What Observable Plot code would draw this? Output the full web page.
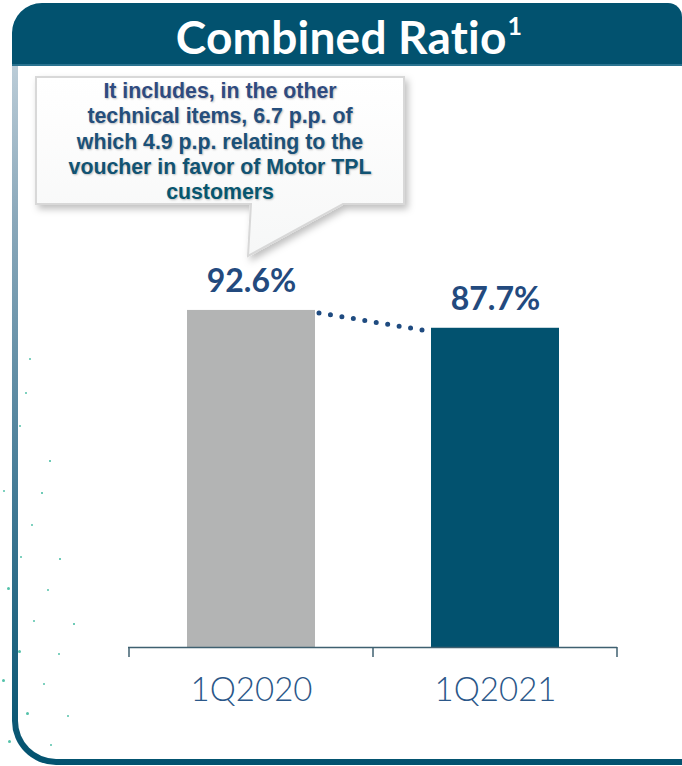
<!DOCTYPE html>
<html><head><meta charset="utf-8">
<script src="https://cdn.jsdelivr.net/npm/d3@7"></script>
<script src="https://cdn.jsdelivr.net/npm/@observablehq/plot@0.6"></script>
<style>
html,body{margin:0;padding:0;background:#fff;}
#wrap{position:relative;width:682px;height:766px;overflow:hidden;background:#fff;}
#frame{position:absolute;left:12px;top:40px;width:700px;bottom:1px;background:linear-gradient(to bottom,#c3d2dc 0%,#8aa8ba 25%,#3f7893 65%,#02526f 100%);border-bottom-left-radius:44px;}
#frameInner{position:absolute;left:6px;top:0;right:0;bottom:6px;background:#fff;border-bottom-left-radius:38px;}
#titlebar{position:absolute;left:12px;top:3px;width:670px;height:63px;background:#02526f;border-radius:30px 14px 0 0;border-bottom:2px solid #2a7390;box-sizing:border-box;display:flex;align-items:center;justify-content:center;}
#title{color:#fff;font-family:Lato,"DejaVu Sans",sans-serif;font-weight:700;font-size:46px;margin-left:4px;padding-top:6px;letter-spacing:0.2px;}
#title sup{font-size:25px;position:relative;top:-3px;margin-left:1px;}
#dots{position:absolute;left:0;top:0;width:100px;height:766px;}
.dot{position:absolute;border-radius:50%;background:#54c2aa;}
#chart{position:absolute;left:0;top:0;}
</style></head>
<body>
<div id="wrap">
  <div id="frame"><div id="frameInner"></div></div>
  <div id="titlebar"><div id="title">Combined Ratio<sup>1</sup></div></div>
  <div id="dots"></div>
  <div id="chart"></div>
</div>
<script>
const categories = ["1Q2020", "1Q2021"];
const values = [92.6, 87.7];
const valueLabels = ["92.6%", "87.7%"];
const barColors = ["#b3b4b4", "#02526f"];
const calloutLines = ["It includes, in the other", "technical items, 6.7 p.p. of", "which 4.9 p.p. relating to the", "voucher in favor of Motor TPL", "customers"];

// decorative background speckles (page ornament, not data)
const speckles = [[30,359,2],[26,393,2],[20,426,2.5],[50,461,1.5],[4,491,2.5],[42,493,1.5],[32,525,2.5],[21,557,2.5],[60,559,1.5],[8,588,3],[48,590,2.5],[34,621,2.5],[74,624,1.5],[19,651,3],[59,654,2.5],[3,680,3],[44,684,2.5],[27,713,3],[68,716,2.5],[9,741,3],[51,745,2.5]];
const dotsEl = document.getElementById("dots");
speckles.forEach(([sx, sy, sr]) => {
  const d = document.createElement("div");
  d.className = "dot";
  d.style.left = (sx - sr / 2) + "px"; d.style.top = (sy - sr / 2) + "px";
  d.style.width = sr + "px"; d.style.height = sr + "px";
  dotsEl.appendChild(d);
});

const data = categories.map((c, i) => ({cat: c, value: values[i], label: valueLabels[i], color: barColors[i]}));

function bandInfo(x) {
  const bw = typeof x.bandwidth === "function" ? x.bandwidth() : x.bandwidth;
  let step = typeof x.step === "function" ? x.step() : x.step;
  if (!step) step = x(categories[1]) - x(categories[0]);
  return {bw, step};
}

// axis boundary ticks + dotted connector + callout
function decorations(index, scales, values_, dims) {
  const x = scales.x, y = scales.y;
  const {bw, step} = bandInfo(x);
  const g = d3.create("svg:g");
  const y0 = y(0);
  const bounds = categories.map(c => x(c) + bw / 2 - step / 2).concat([x(categories[categories.length - 1]) + bw / 2 + step / 2]);
  g.append("g").selectAll("line").data(bounds).join("line")
    .attr("x1", d => d).attr("x2", d => d)
    .attr("y1", y0).attr("y2", y0 + 10)
    .attr("stroke", "#3f6070").attr("stroke-width", 1.5);
  // dotted connector between bar tops
  const xa = x(categories[0]) + bw + 4, ya = y(values[0]) + 3;
  const xb = x(categories[1]) - 4, yb = y(values[1]) + 3;
  g.append("line").attr("x1", xa).attr("y1", ya).attr("x2", xb).attr("y2", yb)
    .attr("stroke", "#1f4b80").attr("stroke-width", 5)
    .attr("stroke-linecap", "round").attr("stroke-dasharray", "0 11.6");
  // callout anchored to the first bar
  const tx = x(categories[0]) + bw / 2 - 3, ty = y(values[0]) - 54;
  const L = tx - 212, R = tx + 156, T = ty - 179, B = ty - 52;
  const defs = g.append("defs");
  const f = defs.append("filter").attr("id", "cshadow").attr("x", "-10%").attr("y", "-10%").attr("width", "130%").attr("height", "140%");
  f.append("feDropShadow").attr("dx", 3).attr("dy", 4).attr("stdDeviation", 3.5).attr("flood-color", "#000").attr("flood-opacity", 0.25);
  const grad = defs.append("linearGradient").attr("id", "cfill").attr("x1", 0).attr("y1", 0).attr("x2", 0).attr("y2", 1);
  grad.append("stop").attr("offset", "0%").attr("stop-color", "#ffffff");
  grad.append("stop").attr("offset", "100%").attr("stop-color", "#f6f7f7");
  g.append("path")
    .attr("d", `M${L},${T}H${R}V${B}H${tx + 95}L${tx},${ty}L${tx + 3},${B}H${L}Z`)
    .attr("fill", "url(#cfill)").attr("stroke", "#d8d8d8").attr("stroke-width", 2)
    .attr("filter", "url(#cshadow)");
  const col = d3.interpolateRgb("#2f4b80", "#07566f");
  g.append("g").selectAll("text").data(calloutLines).join("text")
    .attr("x", (L + R) / 2).attr("y", (d, i) => T + 21 + i * 25.3)
    .attr("text-anchor", "middle")
    .attr("font-family", "'Liberation Sans', Arial, sans-serif")
    .attr("font-weight", "bold").attr("font-size", 21.3)
    .attr("fill", (d, i) => col(i / (calloutLines.length - 1)))
    .style("text-shadow", "1px 1px 2px rgba(0,0,0,0.25)")
    .text(d => d);
  return g.node();
}

const plot = Plot.plot({
  width: 682,
  height: 766,
  marginLeft: 128,
  marginRight: 65,
  marginTop: 283,
  marginBottom: 119,
  style: {background: "transparent", overflow: "visible", fontFamily: "Lato, 'DejaVu Sans', sans-serif"},
  x: {domain: categories, paddingInner: 0.476, paddingOuter: 0.238},
  y: {domain: [0, 100], axis: null},
  color: {type: "identity"},
  marks: [
    Plot.barY(data, {x: "cat", y: "value", fill: "color"}),
    Plot.ruleY([0], {stroke: "#3f6070", strokeWidth: 1.5}),
    Plot.text(data, {x: "cat", y: "value", text: "label", dy: -29, lineAnchor: "middle", fontSize: 32, fontWeight: "bold", fill: "#234a7e"}),
    Plot.axisX({tickSize: 0, tickPadding: 30, fontSize: 33, fontWeight: 300, color: "#2b5789", label: null}),
    decorations
  ]
});
document.getElementById("chart").appendChild(plot);
</script>
</body></html>
